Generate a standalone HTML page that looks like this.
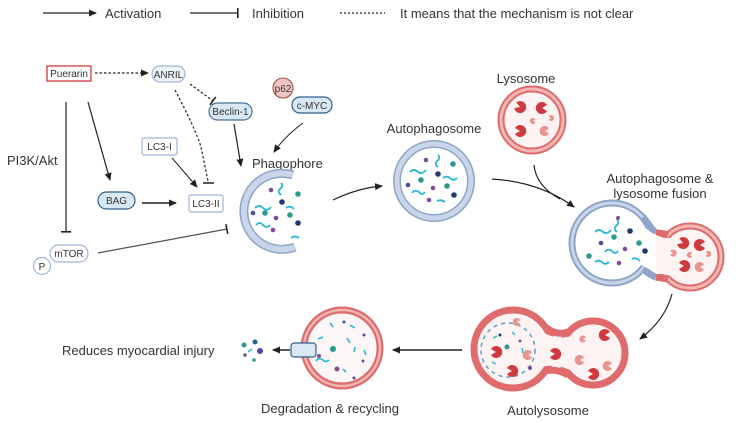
<!DOCTYPE html>
<html><head><meta charset="utf-8"><style>
html,body{margin:0;padding:0;background:#fff;}
svg{display:block;font-family:"Liberation Sans",sans-serif;}
</style></head><body>
<svg width="736" height="422" viewBox="0 0 736 422" xmlns="http://www.w3.org/2000/svg">
<defs>
<marker id="ah" markerWidth="8" markerHeight="8" refX="7" refY="4" orient="auto" markerUnits="userSpaceOnUse"><path d="M0,0.5 L8,4 L0,7.5 Z" fill="#222"/></marker>
<marker id="bar" markerWidth="2" markerHeight="10" refX="1" refY="5" orient="auto" markerUnits="userSpaceOnUse"><rect x="0" y="0" width="1.6" height="10" fill="#222"/></marker>
<g id="pac"><path d="M0,0 L5,-3 A6,6 0 1 0 5,3 Z" fill="#d0393f"/></g>
<g id="pacl"><path d="M0,0 L4,-2.5 A5,5 0 1 0 4,2.5 Z" fill="#e8948f"/></g>
</defs>
<!-- legend -->
<line x1="43" y1="13" x2="96" y2="13" stroke="#222" stroke-width="1.3" marker-end="url(#ah)"/>
<text x="105" y="18" font-size="13" fill="#333">Activation</text>
<line x1="190" y1="13" x2="238" y2="13" stroke="#222" stroke-width="1.3" marker-end="url(#bar)"/>
<text x="252" y="18" font-size="13" fill="#333">Inhibition</text>
<line x1="340" y1="13" x2="385" y2="13" stroke="#222" stroke-width="1.3" stroke-dasharray="2,2"/>
<text x="400" y="18" font-size="13" fill="#333">It means that the mechanism is not clear</text>

<!-- left nodes -->
<rect x="47" y="66" width="44" height="15" fill="#fff" stroke="#d0393f" stroke-width="1.3"/>
<text x="69" y="77" font-size="10" text-anchor="middle" fill="#333">Puerarin</text>
<line x1="95" y1="73" x2="148" y2="73" stroke="#222" stroke-width="1.2" stroke-dasharray="2.5,2" marker-end="url(#ah)"/>
<rect x="152" y="66" width="33" height="16" rx="8" fill="#eef3fa" stroke="#9fb4d6" stroke-width="1.2"/>
<text x="168.5" y="78" font-size="10" text-anchor="middle" fill="#333">ANRIL</text>
<line x1="190" y1="84" x2="213" y2="101" stroke="#222" stroke-width="1.2" stroke-dasharray="2.5,2" marker-end="url(#bar)"/>
<path d="M175,90 Q196,130 201,147 L208,181" fill="none" stroke="#222" stroke-width="1.2" stroke-dasharray="2.5,2"/>
<line x1="203" y1="183" x2="214" y2="183" stroke="#222" stroke-width="1.5"/>
<rect x="209" y="103" width="43" height="17" rx="8.5" fill="#d8e9f5" stroke="#4a6f96" stroke-width="1.2"/>
<text x="230.5" y="115" font-size="10" text-anchor="middle" fill="#333">Beclin-1</text>
<circle cx="283" cy="88" r="10" fill="#f2c6c0" stroke="#a34e4a" stroke-width="1.1"/>
<text x="283" y="92" font-size="10" text-anchor="middle" fill="#333">p62</text>
<rect x="292" y="97" width="40" height="16" rx="8" fill="#d8e9f5" stroke="#2c5f8d" stroke-width="1.2"/>
<text x="312" y="109" font-size="10" text-anchor="middle" fill="#333">c-MYC</text>
<line x1="234" y1="124" x2="241" y2="166" stroke="#222" stroke-width="1.2" marker-end="url(#ah)"/>
<path d="M303,123 Q285,136 274,152" fill="none" stroke="#222" stroke-width="1" marker-end="url(#ah)"/>
<rect x="142" y="138" width="35" height="17" fill="#fff" stroke="#9fb4d6" stroke-width="1.2" rx="2"/>
<text x="159.5" y="150" font-size="10" text-anchor="middle" fill="#333">LC3-I</text>
<line x1="172" y1="158" x2="197" y2="187" stroke="#222" stroke-width="1" marker-end="url(#ah)"/>
<rect x="189" y="195" width="34" height="17" fill="#fff" stroke="#9fb4d6" stroke-width="1.2" rx="2"/>
<text x="206" y="207" font-size="10" text-anchor="middle" fill="#333">LC3-II</text>
<rect x="98" y="192" width="37" height="17" rx="8.5" fill="#d8e9f5" stroke="#2c5f8d" stroke-width="1.2"/>
<text x="116.5" y="204" font-size="10" text-anchor="middle" fill="#333">BAG</text>
<line x1="142" y1="203" x2="176" y2="203" stroke="#222" stroke-width="1.4" marker-end="url(#ah)"/>
<line x1="88" y1="102" x2="110" y2="180" stroke="#222" stroke-width="1.2" marker-end="url(#ah)"/>
<line x1="66" y1="102" x2="66" y2="232" stroke="#222" stroke-width="1.2" marker-end="url(#bar)"/>
<text x="7" y="165" font-size="13" fill="#333">PI3K/Akt</text>
<rect x="50" y="245" width="38" height="17" rx="8.5" fill="#fff" stroke="#9fb4d6" stroke-width="1.2"/>
<text x="69" y="257" font-size="10" text-anchor="middle" fill="#333">mTOR</text>
<circle cx="42" cy="266" r="8.5" fill="#fff" stroke="#9fb4d6" stroke-width="1.2"/>
<text x="42" y="270" font-size="10" text-anchor="middle" fill="#333">P</text>
<line x1="98" y1="253" x2="227" y2="229" stroke="#555" stroke-width="1.2" marker-end="url(#bar)"/>

<!-- phagophore -->
<text x="252" y="168" font-size="13" fill="#333">Phagophore</text>
<g transform="translate(-1,38)">
<path d="M296,209 A38,38 0 1 1 294,137" fill="none" stroke="#8fa5c8" stroke-width="9"/>
<path d="M296,209 A38,38 0 1 1 294,137" fill="none" stroke="#c9d6ea" stroke-width="6"/>
<g fill="none" stroke="#2ab7d6" stroke-width="1.8">
<path d="M256,170 q4,-4 8,0 q4,4 8,-1"/><path d="M282,145 q3,3 -1,6 q-3,3 1,6"/><path d="M257,187 q4,-4 7,0 q4,4 7,0"/><path d="M292,200 q4,-3 8,0"/><path d="M287,170 q4,-3 8,1"/>
</g>
<circle cx="272" cy="152" r="2.3" fill="#7b4d9c"/><circle cx="299" cy="156" r="2.8" fill="#2c9a8e"/><circle cx="283" cy="164" r="2.8" fill="#1e3d6d"/><circle cx="266" cy="175" r="2.8" fill="#2c9a8e"/><circle cx="254" cy="175" r="2.3" fill="#4b4aa0"/><circle cx="299" cy="185" r="2.8" fill="#1e3d6d"/><circle cx="291" cy="177" r="2.8" fill="#2c9a8e"/><circle cx="277" cy="180" r="2.3" fill="#7b4d9c"/><circle cx="274" cy="192" r="2.3" fill="#7b4d9c"/>
</g>
<path d="M333,200 Q358,188 382,186" fill="none" stroke="#222" stroke-width="1.2" marker-end="url(#ah)"/>

<!-- autophagosome -->
<text x="434" y="133" font-size="13" fill="#333" text-anchor="middle">Autophagosome</text>
<circle cx="434" cy="181" r="37" fill="#fff" stroke="#8fa5c8" stroke-width="8"/>
<circle cx="434" cy="181" r="37" fill="none" stroke="#c9d6ea" stroke-width="5"/>
<g fill="none" stroke="#2ab7d6" stroke-width="1.8">
<path d="M410,172 q4,-4 8,0 q4,3 8,-2"/><path d="M438,155 q3,3 -1,6 q-3,3 1,6"/><path d="M443,178 q4,-3 8,1 q3,2 6,-1"/><path d="M412,193 q3,-4 7,-1 q3,4 6,0"/><path d="M437,201 q4,-2 8,1"/>
</g>
<circle cx="426" cy="160" r="2.3" fill="#7b4d9c"/><circle cx="453" cy="164" r="2.8" fill="#2c9a8e"/><circle cx="438" cy="174" r="2.8" fill="#1e3d6d"/><circle cx="421" cy="180" r="2.8" fill="#2c9a8e"/><circle cx="408" cy="185" r="2.3" fill="#4b4aa0"/><circle cx="433" cy="188" r="2.3" fill="#7b4d9c"/><circle cx="447" cy="186" r="2.8" fill="#2c9a8e"/><circle cx="454" cy="195" r="2.8" fill="#1e3d6d"/><circle cx="429" cy="200" r="2.3" fill="#7b4d9c"/>

<!-- lysosome -->
<text x="526" y="83" font-size="13" fill="#333" text-anchor="middle">Lysosome</text>
<circle cx="532" cy="120" r="31" fill="#fdf3f3" stroke="#e06b6d" stroke-width="7"/>
<circle cx="532" cy="120" r="31" fill="none" stroke="#f3b7b4" stroke-width="3"/>
<use href="#pac" transform="translate(520,107) rotate(200)"/><use href="#pac" transform="translate(542,108)"/><use href="#pac" transform="translate(520,131) rotate(180)"/><use href="#pacl" transform="translate(545,131)"/><use href="#pacl" transform="translate(533,121) scale(0.6)"/><use href="#pacl" transform="translate(551,118) scale(0.6) rotate(180)"/>
<path d="M492,179 Q540,182 574,207" fill="none" stroke="#222" stroke-width="1.2" marker-end="url(#ah)"/>
<path d="M534,165 Q536,186 560,199" fill="none" stroke="#222" stroke-width="1.2"/>

<!-- fusion -->
<text x="660" y="183" font-size="13" fill="#333" text-anchor="middle">Autophagosome &amp;</text>
<text x="660" y="198" font-size="13" fill="#333" text-anchor="middle">lysosome fusion</text>
<circle cx="612" cy="243" r="40" fill="#fff" stroke="#8fa5c8" stroke-width="7"/>
<circle cx="612" cy="243" r="40" fill="none" stroke="#c9d6ea" stroke-width="3"/>
<circle cx="690" cy="257" r="31" fill="#fdf3f3" stroke="#e06b6d" stroke-width="7"/>
<circle cx="690" cy="257" r="31" fill="none" stroke="#f3b7b4" stroke-width="3"/>
<path d="M643,217 Q654,232 656,233" fill="none" stroke="#8fa5c8" stroke-width="7"/>
<path d="M656,233 Q662,233 668,235" fill="none" stroke="#e06b6d" stroke-width="7"/>
<path d="M643,269 Q652,276 656,277" fill="none" stroke="#8fa5c8" stroke-width="7"/>
<path d="M656,277 Q662,278 668,279" fill="none" stroke="#e06b6d" stroke-width="7"/>
<path d="M640,222 Q652,237 670,239 L672,276 Q652,272 640,264 Z" fill="#fff"/>
<rect x="656" y="238" width="20" height="36" fill="#fdf3f3"/>
<g fill="none" stroke="#2ab7d6" stroke-width="1.8">
<path d="M595,232 q4,-4 8,0 q4,3 8,-2"/><path d="M617,220 q3,3 -1,6 q-3,3 1,6"/><path d="M605,252 q3,-4 7,-1 q3,4 6,0"/><path d="M595,262 q4,-3 8,1 q3,2 6,-1"/><path d="M632,259 q4,-2 8,2"/>
</g>
<circle cx="618" cy="218" r="2" fill="#7b4d9c"/><circle cx="614" cy="237" r="2.8" fill="#2c9a8e"/><circle cx="630" cy="231" r="2.8" fill="#1e3d6d"/><circle cx="601" cy="243" r="2.3" fill="#4b4aa0"/><circle cx="639" cy="243" r="2.8" fill="#2c9a8e"/><circle cx="625" cy="249" r="2.3" fill="#7b4d9c"/><circle cx="645" cy="251" r="2.8" fill="#1e3d6d"/><circle cx="589" cy="256" r="2.8" fill="#2c9a8e"/><circle cx="619" cy="263" r="2.3" fill="#7b4d9c"/>
<use href="#pac" transform="translate(683,243) rotate(200)"/><use href="#pac" transform="translate(700,245)"/><use href="#pac" transform="translate(684,266) rotate(180)"/><use href="#pacl" transform="translate(700,267)"/><use href="#pacl" transform="translate(673,253) scale(0.7) rotate(180)"/><use href="#pacl" transform="translate(690,255) scale(0.6)"/><use href="#pacl" transform="translate(708,254) scale(0.6) rotate(180)"/>
<path d="M672,294 Q665,320 640,339" fill="none" stroke="#222" stroke-width="1.2" marker-end="url(#ah)"/>

<!-- autolysosome -->
<circle cx="513" cy="349" r="39" fill="#fdf3f3" stroke="#e06b6d" stroke-width="7"/>
<circle cx="593" cy="353" r="32" fill="#fdf3f3" stroke="#e06b6d" stroke-width="7"/>
<path d="M545,327 Q556,336 568,332" fill="none" stroke="#e06b6d" stroke-width="7"/>
<path d="M545,371 Q556,368 568,375" fill="none" stroke="#e06b6d" stroke-width="7"/>
<path d="M541,331 Q556,341 572,336 L572,371 Q556,363 541,367 Z" fill="#fdf3f3"/>
<circle cx="508" cy="350" r="27" fill="none" stroke="#5aa0c8" stroke-width="1.5" stroke-dasharray="4,4"/>
<use href="#pac" transform="translate(496,352) rotate(180)"/><use href="#pac" transform="translate(512,371) rotate(180)"/><use href="#pacl" transform="translate(517,322) scale(0.8)"/><use href="#pacl" transform="translate(528,355)"/>
<use href="#pac" transform="translate(555,354) rotate(180)"/><use href="#pac" transform="translate(605,335)"/><use href="#pac" transform="translate(593,374) rotate(180)"/><use href="#pacl" transform="translate(580,360)"/><use href="#pacl" transform="translate(608,366)"/><use href="#pacl" transform="translate(583,339) scale(0.7)"/>
<circle cx="507" cy="347" r="2.5" fill="#2c9a8e"/><circle cx="530" cy="368" r="2" fill="#7b4d9c"/><circle cx="500" cy="335" r="1.5" fill="#1e3d6d"/><circle cx="520" cy="341" r="1.5" fill="#7b4d9c"/>
<g fill="none" stroke="#2ab7d6" stroke-width="1.5"><path d="M493,338 l4,-2"/><path d="M512,332 l3,3"/><path d="M522,348 l1,5"/><path d="M492,362 l4,2"/></g>
<text x="548" y="415" font-size="13" fill="#333" text-anchor="middle">Autolysosome</text>
<line x1="462" y1="350" x2="393" y2="350" stroke="#222" stroke-width="1.4" marker-end="url(#ah)"/>

<!-- degradation -->
<circle cx="342" cy="348" r="38" fill="#fdf6f6" stroke="#e06b6d" stroke-width="7"/>
<circle cx="342" cy="348" r="38" fill="none" stroke="#f3b7b4" stroke-width="2.5"/>
<g fill="none" stroke="#2ab7d6" stroke-width="1.6"><path d="M316,361 q3,-4 7,-1 q3,3 6,0"/><path d="M330,323 l3,4"/><path d="M350,325 l5,3"/><path d="M347,338 l3,5"/><path d="M355,347 l-1,5"/><path d="M364,350 l2,5"/><path d="M318,339 l5,-2"/><path d="M343,369 l3,3"/></g>
<circle cx="333" cy="349" r="3" fill="#2c9a8e"/><circle cx="337" cy="369" r="2.5" fill="#7b4d9c"/><circle cx="319" cy="356" r="2" fill="#7b4d9c"/><circle cx="344" cy="322" r="1.5" fill="#4b4aa0"/><circle cx="364" cy="335" r="1.5" fill="#4b4aa0"/><circle cx="354" cy="378" r="1.5" fill="#4b4aa0"/><circle cx="363" cy="361" r="1.5" fill="#7b4d9c"/>
<rect x="291" y="343" width="25" height="14" rx="3" fill="#d8e9f5" stroke="#2c5f8d" stroke-width="1.2"/>
<line x1="290" y1="350" x2="273" y2="350" stroke="#222" stroke-width="1.4" marker-end="url(#ah)"/>
<text x="330" y="413" font-size="13" fill="#333" text-anchor="middle">Degradation &amp; recycling</text>
<circle cx="244" cy="345" r="2.5" fill="#2c9a8e"/><circle cx="255" cy="342" r="2.5" fill="#2c5f8d"/><circle cx="260" cy="351" r="3" fill="#4b4aa0"/><circle cx="245" cy="355" r="1.8" fill="#7b4d9c"/><circle cx="254" cy="360" r="1.8" fill="#2c9a8e"/><path d="M248,352 l4,-3" stroke="#2ab7d6" stroke-width="1.5"/>
<text x="62" y="355" font-size="13" fill="#333">Reduces myocardial injury</text>
</svg>
</body></html>
